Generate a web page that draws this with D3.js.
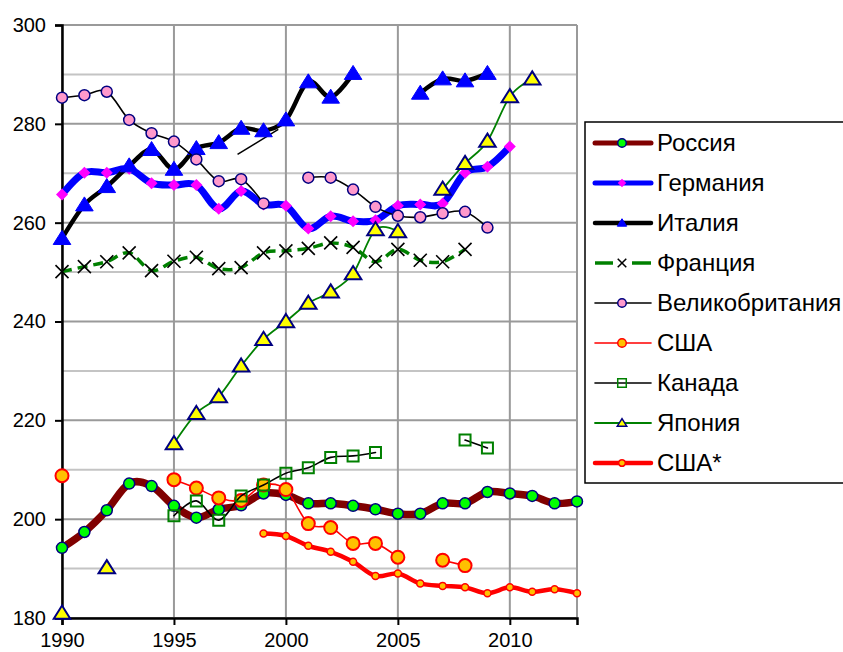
<!DOCTYPE html>
<html><head><meta charset="utf-8">
<script src="https://cdn.jsdelivr.net/npm/d3@7"></script>
<style>body{margin:0;background:#fff}svg{display:block;font-family:"Liberation Sans",Arial,sans-serif}</style>
</head><body><svg id="c" width="843" height="652"></svg>
<script>
const years = d3.range(1990, 2014);
const yTicks = [180, 200, 220, 240, 260, 280, 300];
const xTicks = [1990, 1995, 2000, 2005, 2010];
const seriesNames = ["Россия","Германия","Италия","Франция","Великобритания","США","Канада","Япония","США*"];
const _ = null;
const russia  = [194.2,197.4,201.8,207.2,206.7,202.7,200.3,202.0,202.8,205.2,204.9,203.2,203.2,202.7,202.0,201.1,201.1,203.2,203.2,205.5,205.2,204.7,203.2,203.6];
const germany = [265.7,270.1,270.1,270.9,268.0,267.6,267.6,262.8,266.4,263.7,263.4,258.8,261.3,260.3,260.5,263.4,263.7,263.9,270.1,271.3,275.4,_,_,_];
const italy   = [256.8,263.6,267.3,271.5,274.8,270.8,275.0,276.2,279.1,278.6,280.8,288.5,285.4,290.2,_,_,286.2,289.1,288.7,290.2,_,_,_,_];
const france  = [250.1,251.1,252.1,253.9,250.3,252.2,253.0,250.7,250.9,253.9,254.3,254.8,255.9,255.0,252.1,254.6,252.4,252.1,254.6,_,_,_,_,_];
const britain = [285.3,285.8,286.5,280.8,278.1,276.4,272.8,268.4,268.8,263.9,_,269.1,269.1,266.7,263.2,261.4,261.1,261.9,262.2,259.0,_,_,_,_];
const usa     = [208.8,_,_,_,_,208.0,206.3,204.3,203.8,206.9,206.0,199.1,198.3,195.1,195.1,192.3,_,191.7,190.6,_,_,_,_,_];
const canada  = [_,_,_,_,_,200.7,203.7,199.8,204.7,206.9,209.3,210.4,212.5,212.8,213.5,_,_,_,216.0,214.4,_,_,_,_];
const japan   = [181.0,_,190.2,_,_,215.3,221.4,224.8,231.0,236.4,240.0,243.7,246.0,249.7,258.6,258.2,_,266.8,272.0,276.5,285.5,289.1,_,_];
const usaStar = [_,_,_,_,_,_,_,_,_,197.1,196.6,194.6,193.4,191.4,188.5,189.0,187.0,186.5,186.2,185.0,186.2,185.3,185.8,185.0];
const strayX = [1997.84, 1999.66];
const strayY = [273.8, 278.9];

const svg = d3.select("#c");
const x = d3.scaleLinear().domain([1990, 2013]).range([62, 577]);
const y = d3.scaleLinear().domain([180, 300]).range([618, 25]);

// gridlines
const g = svg.append("g");
d3.range(190, 300, 20).forEach(v => g.append("line").attr("x1", x(1990)).attr("x2", x(2013)).attr("y1", y(v)).attr("y2", y(v)).attr("stroke", "#c4c4c4").attr("stroke-width", 2));
yTicks.forEach(v => g.append("line").attr("x1", x(1990)).attr("x2", x(2013)).attr("y1", y(v)).attr("y2", y(v)).attr("stroke", "#9a9a9a").attr("stroke-width", 2));
xTicks.concat([2013]).forEach(v => g.append("line").attr("x1", x(v)).attr("x2", x(v)).attr("y1", y(180)).attr("y2", y(300)).attr("stroke", "#9a9a9a").attr("stroke-width", 2));

// axes
const yAxis = svg.append("g").attr("transform", `translate(${x(1990)},0)`)
  .call(d3.axisLeft(y).tickValues(yTicks).tickSize(7).tickPadding(9).tickFormat(d3.format("d")));
const xAxis = svg.append("g").attr("transform", `translate(0,${y(180)})`)
  .call(d3.axisBottom(x).tickValues(xTicks).tickSize(7).tickPadding(8).tickFormat(d3.format("d")));
[yAxis, xAxis].forEach(a => {
  a.select(".domain").attr("stroke", "#000").attr("stroke-width", 2.5);
  a.selectAll(".tick line").attr("stroke", "#000").attr("stroke-width", 2);
  a.selectAll("text").attr("font-size", 20).attr("fill", "#000").attr("font-family", '"Liberation Sans",Arial,sans-serif');
});

const curve = d3.curveCardinal.tension(0);

function markerPath(type, s) {
  switch (type) {
    case "circle": return d3.symbol(d3.symbolCircle, Math.PI * s * s)();
    case "diamond": return `M0,${-s}L${s},0L0,${s}L${-s},0Z`;
    case "triangle": return `M0,${-s}L${s*1.1},${s*0.75}L${-s*1.1},${s*0.75}Z`;
    case "square": return `M${-s},${-s}H${s}V${s}H${-s}Z`;
    case "x": return `M${-s},${-s}L${s},${s}M${s},${-s}L${-s},${s}`;
  }
}

const series = [
  {name: seriesNames[0], data: russia,  stroke: "#800000", width: 7.5, dash: null, m: "circle",  ms: 5.5, mfill: "#00ff00", mstroke: "#000080", msw: 1.5},
  {name: seriesNames[1], data: germany, stroke: "#0000ff", width: 7,   dash: null, m: "diamond", ms: 6,   mfill: "#ff00ff", mstroke: "none",    msw: 0},
  {name: seriesNames[2], data: italy,   stroke: "#000000", width: 4.5, dash: null, m: "triangle",ms: 8,   mfill: "#0000ff", mstroke: "#0000ff", msw: 1},
  {name: seriesNames[3], data: france,  stroke: "#008000", width: 3.5, dash: "10,6", m: "x",    ms: 6.5, mfill: "none",    mstroke: "#000000", msw: 1.6},
  {name: seriesNames[4], data: britain, stroke: "#000000", width: 1.6, dash: null, m: "circle",  ms: 5.5, mfill: "#ff99cc", mstroke: "#000080", msw: 1.5},
  {name: seriesNames[5], data: usa,     stroke: "#ff0000", width: 1.6, dash: null, m: "circle",  ms: 6.5, mfill: "#ffc000", mstroke: "#ff0000", msw: 2},
  {name: seriesNames[6], data: canada,  stroke: "#000000", width: 1.6, dash: null, m: "square",  ms: 5.5, mfill: "none",    mstroke: "#008000", msw: 2},
  {name: seriesNames[7], data: japan,   stroke: "#008000", width: 1.8, dash: null, m: "triangle",ms: 7.5, mfill: "#ffff00", mstroke: "#000080", msw: 2},
  {name: seriesNames[8], data: usaStar, stroke: "#ff0000", width: 4.5, dash: null, m: "circle",  ms: 3.5, mfill: "#ffc000", mstroke: "#ff0000", msw: 1.5}
];

const plot = svg.append("g");
const line = d3.line().defined(d => d.v !== null).x(d => x(d.yr)).y(d => y(d.v)).curve(curve);

series.forEach((s, i) => {
  const pts = years.map((yr, k) => ({yr, v: s.data[k]}));
  const sg = plot.append("g");
  sg.append("path").attr("d", line(pts)).attr("fill", "none").attr("stroke", s.stroke)
    .attr("stroke-width", s.width).attr("stroke-dasharray", s.dash).attr("stroke-linejoin", "round").attr("stroke-linecap", s.dash ? "butt" : "round");
  if (i === 2) {
    const sp = strayX.map((xx, k) => ({yr: xx, v: strayY[k]}));
    sg.append("path").attr("d", d3.line().x(d => x(d.yr)).y(d => y(d.v))(sp)).attr("stroke", "#000").attr("stroke-width", 1.5).attr("fill", "none");
  }
  sg.selectAll("path.mk").data(pts.filter(d => d.v !== null)).join("path").attr("class", "mk")
    .attr("transform", d => `translate(${x(d.yr)},${y(d.v)})`)
    .attr("d", markerPath(s.m, s.ms)).attr("fill", s.mfill).attr("stroke", s.mstroke).attr("stroke-width", s.msw);
});

// legend
const lg = svg.append("g");
lg.append("rect").attr("x", 585).attr("y", 122).attr("width", 300).attr("height", 361).attr("fill", "#fff").attr("stroke", "#000").attr("stroke-width", 1.5);
series.forEach((s, i) => {
  const cy = 143 + i * 40;
  const lw = Math.min(s.width, 5);
  if (s.dash) {
    lg.append("line").attr("x1", 595).attr("x2", 613).attr("y1", cy).attr("y2", cy).attr("stroke", s.stroke).attr("stroke-width", lw);
    lg.append("line").attr("x1", 632).attr("x2", 651).attr("y1", cy).attr("y2", cy).attr("stroke", s.stroke).attr("stroke-width", lw);
  } else {
    lg.append("line").attr("x1", 595).attr("x2", 651).attr("y1", cy).attr("y2", cy).attr("stroke", s.stroke).attr("stroke-width", lw).attr("stroke-linecap", "round");
  }
  lg.append("path").attr("transform", `translate(622,${cy})`).attr("d", markerPath(s.m, Math.min(s.ms, 4.5) * 0.95))
    .attr("fill", s.mfill).attr("stroke", s.mstroke).attr("stroke-width", Math.min(s.msw, 1.5));
  lg.append("text").attr("x", 657).attr("y", cy + 8).attr("font-size", 24).attr("fill", "#000").text(s.name);
});
</script></body></html>
